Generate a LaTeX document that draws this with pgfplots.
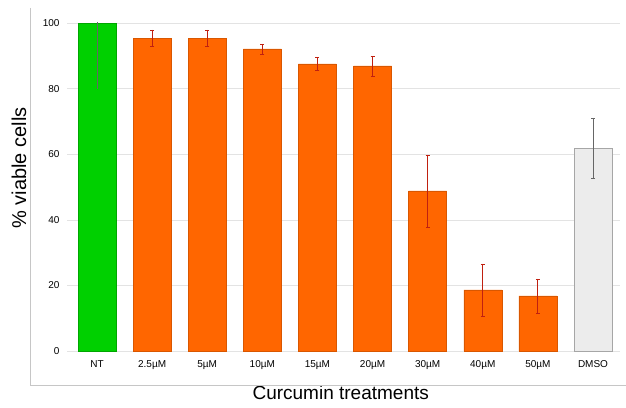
\documentclass[border=0pt]{standalone}
\usepackage{pgfplots}
\pgfplotsset{compat=1.18}
\usepackage{pgfplotstable}
\usepackage{fontspec}
\setmainfont{Liberation Sans}
\usetikzlibrary{calc}
\definecolor{barorange}{HTML}{FF6600}
\definecolor{bargreen}{HTML}{00D000}
\definecolor{bargray}{HTML}{ECECEC}
\definecolor{errred}{HTML}{C02010}

\pgfplotstableread{
x y e
0 100 20
}\ntdata
\pgfplotstableread{
x y e
1 95.4 2.5
2 95.4 2.5
3 92.1 1.5
4 87.5 2.0
5 86.9 3.0
6 48.8 11.0
7 18.6 8.0
8 16.8 5.2
}\curdata
\pgfplotstableread{
x y e
9 61.9 9.2
}\dmsodata

\begin{document}
\begin{tikzpicture}
\begin{axis}[
  scale only axis, width=553pt, height=328pt,
  xmin=-0.545, xmax=9.49, ymin=0, ymax=100,
  axis line style={draw=none},
  ytick={0,20,40,60,80,100},
  ymajorgrids, grid style={gray!22, line width=0.6pt},
  xtick={0,...,9},
  xticklabels={NT,2.5µM,5µM,10µM,15µM,20µM,30µM,40µM,50µM,DMSO},
  major tick length=0pt,
  tick label style={font=\fontsize{10}{12}\selectfont},
  xticklabel style={yshift=-6pt},
  yticklabel style={xshift=-4pt},
  /pgf/number format/assume math mode=true,
  ylabel={\% viable cells},
  xlabel={Curcumin treatments},
  label style={font=\fontsize{19}{22}\selectfont},
  ylabel style={font=\fontsize{20}{24}\selectfont, at={(axis description cs:-0.0868,0.558)}, anchor=center},
  xlabel style={at={(axis description cs:0.495,0)}, anchor=north, yshift=-34pt, inner sep=1pt},
  ybar, bar width=38pt, bar shift=0pt,
  clip=true,
]
\addplot[fill=bargreen, draw=bargreen!80!black, line width=0.5pt,
  error bars/.cd, y dir=both, y explicit,
  error bar style={black!60, line width=0.9pt}, error mark=none]
  table[x=x, y=y, y error=e]{\ntdata};
\addplot[fill=barorange, draw=barorange!85!black, line width=0.5pt,
  error bars/.cd, y dir=both, y explicit,
  error bar style={errred, line width=0.9pt},
  error mark options={rotate=90, mark size=2pt, errred}]
  table[x=x, y=y, y error=e]{\curdata};
\addplot[fill=bargray, draw=gray!70, line width=0.6pt,
  error bars/.cd, y dir=both, y explicit,
  error bar style={gray!80!black, line width=0.9pt},
  error mark options={rotate=90, mark size=2pt, gray!80!black}]
  table[x=x, y=y, y error=e]{\dmsodata};
\coordinate (sw) at (rel axis cs:0,0);
\coordinate (ne) at (rel axis cs:1,1);
\end{axis}
\draw[gray!45, line width=0.8pt] ($(sw|-ne)+(-37pt,15pt)$) -- ($(sw)+(-37pt,-34pt)$) -- ($(sw-|ne)+(6pt,-34pt)$);
\pgfresetboundingbox
\path ($(sw)+(-67pt,-56pt)$) rectangle ($(ne)+(6pt,23pt)$);
\end{tikzpicture}
\end{document}
